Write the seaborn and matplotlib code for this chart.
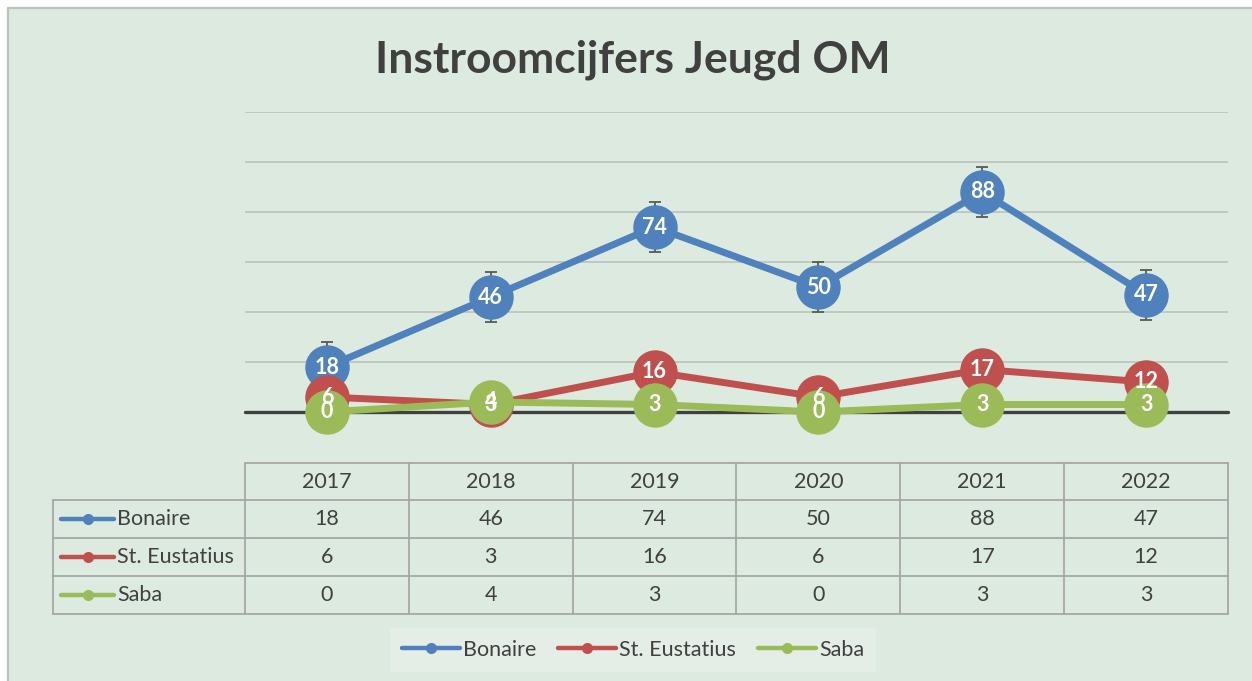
import numpy as np
import pandas as pd
import seaborn as sns
import matplotlib.pyplot as plt
import matplotlib.transforms as mtransforms
from matplotlib.patches import Rectangle
from matplotlib.lines import Line2D

# data
years = ["2017", "2018", "2019", "2020", "2021", "2022"]
series_names = ["Bonaire", "St. Eustatius", "Saba"]
bonaire = [18, 46, 74, 50, 88, 47]
st_eustatius = [6, 3, 16, 6, 17, 12]
saba = [0, 4, 3, 0, 3, 3]
bonaire_err = 10
colors = ["#4F81BD", "#C0504D", "#9BBB59"]

BG = "#DDEADF"
TXT = "#404040"
GRID = "#A6A6A6"

W, H = 1252, 681


def fx(px):
    return px / W


def fy(py):
    return 1 - py / H


sns.set_style("white")
plt.rcParams["font.family"] = ["Lato", "DejaVu Sans"]

fig = plt.figure(figsize=(W / 100, H / 100), dpi=100)
fig.patch.set_facecolor("white")
fig.add_artist(Rectangle((fx(8), -0.1), 1.2, fy(8) + 0.1, transform=fig.transFigure,
                         facecolor=BG, edgecolor="#BFBFBF", linewidth=1.6, zorder=0))

fig.text(fx(633), fy(60), "Instroomcijfers Jeugd OM", ha="center", va="center",
         fontsize=32, fontweight="bold", color=TXT)

ax = fig.add_axes([fx(245), fy(412), fx(1228) - fx(245), fy(112) - fy(412)])
ax.set_facecolor("none")

df = pd.DataFrame({
    "x": np.tile(np.arange(len(years)), 3),
    "value": bonaire + st_eustatius + saba,
    "series": np.repeat(series_names, len(years)),
})

ax.errorbar(np.arange(len(years)), bonaire, yerr=bonaire_err, fmt="none",
            ecolor="#595959", elinewidth=1.3, capsize=4.5, capthick=1.3,
            zorder=2, clip_on=False)

sns.lineplot(data=df, x="x", y="value", hue="series", hue_order=series_names,
             palette=colors, marker="o", markersize=32, linewidth=5,
             markeredgewidth=0, errorbar=None, legend=False, ax=ax,
             zorder=3, clip_on=False)

for vals in [bonaire, st_eustatius, saba]:
    for i, v in enumerate(vals):
        ax.text(i, v, str(v), ha="center", va="center", color="white",
                fontsize=15.5, fontweight="bold", zorder=6)

ax.set_xlim(-0.5, len(years) - 0.5)
ax.set_ylim(0, 120)
ax.set_yticks(range(20, 121, 20))
ax.yaxis.grid(True, color="#BFC5BF", linewidth=1.3)
ax.set_axisbelow(True)
ax.axhline(0, color=TXT, linewidth=2.4, zorder=1, clip_on=False)
for s in ax.spines.values():
    s.set_visible(False)
ax.set_xticks([])
ax.set_yticklabels([])
ax.tick_params(left=False, bottom=False)
ax.set_xlabel("")
ax.set_ylabel("")

# data table below the chart
tr = mtransforms.blended_transform_factory(ax.transData, fig.transFigure)
row_y = [463, 500, 538, 576, 614]
x_left = -0.5 - (245 - 53) / (983 / len(years))
lw_t = 1.3
fs = 15.5
fig.add_artist(Line2D([-0.5, len(years) - 0.5], [fy(row_y[0])] * 2, transform=tr,
                      color=GRID, linewidth=lw_t))
for yy in row_y[1:]:
    fig.add_artist(Line2D([x_left, len(years) - 0.5], [fy(yy)] * 2, transform=tr,
                          color=GRID, linewidth=lw_t))
fig.add_artist(Line2D([x_left, x_left], [fy(row_y[1]), fy(row_y[-1])], transform=tr,
                      color=GRID, linewidth=lw_t))
for i in range(len(years) + 1):
    fig.add_artist(Line2D([i - 0.5, i - 0.5], [fy(row_y[0]), fy(row_y[-1])], transform=tr,
                          color=GRID, linewidth=lw_t))

for i, yr in enumerate(years):
    fig.text(i, fy((row_y[0] + row_y[1]) / 2), yr, transform=tr, ha="center",
             va="center", fontsize=fs, color=TXT)

for r, (name, vals, col) in enumerate(zip(series_names, [bonaire, st_eustatius, saba], colors)):
    yc = fy((row_y[r + 1] + row_y[r + 2]) / 2)
    for i, v in enumerate(vals):
        fig.text(i, yc, str(v), transform=tr, ha="center", va="center",
                 fontsize=fs, color=TXT)
    fig.add_artist(Line2D([fx(61), fx(114)], [yc, yc], color=col, linewidth=3.2,
                          solid_capstyle="round", transform=fig.transFigure))
    fig.add_artist(Line2D([fx(88)], [yc], color=col, marker="o", markersize=8,
                          markeredgewidth=0, transform=fig.transFigure))
    fig.text(fx(117), yc, name, ha="left", va="center", fontsize=fs, color=TXT)

handles = [Line2D([0], [0], color=c, linewidth=3.2, marker="o", markersize=8,
                  markeredgewidth=0, solid_capstyle="round") for c in colors]
leg = fig.legend(handles, series_names, loc="center", bbox_to_anchor=(fx(633), fy(650)),
                 ncol=3, fontsize=fs, frameon=True, fancybox=False,
                 handlelength=2.7, handletextpad=0.15, columnspacing=1.0,
                 borderpad=0.55, borderaxespad=0, labelcolor=TXT)
leg.get_frame().set_facecolor("#E4EDE6")
leg.get_frame().set_edgecolor("none")
leg.get_frame().set_alpha(1)

fig.savefig("out.png", dpi=100)
